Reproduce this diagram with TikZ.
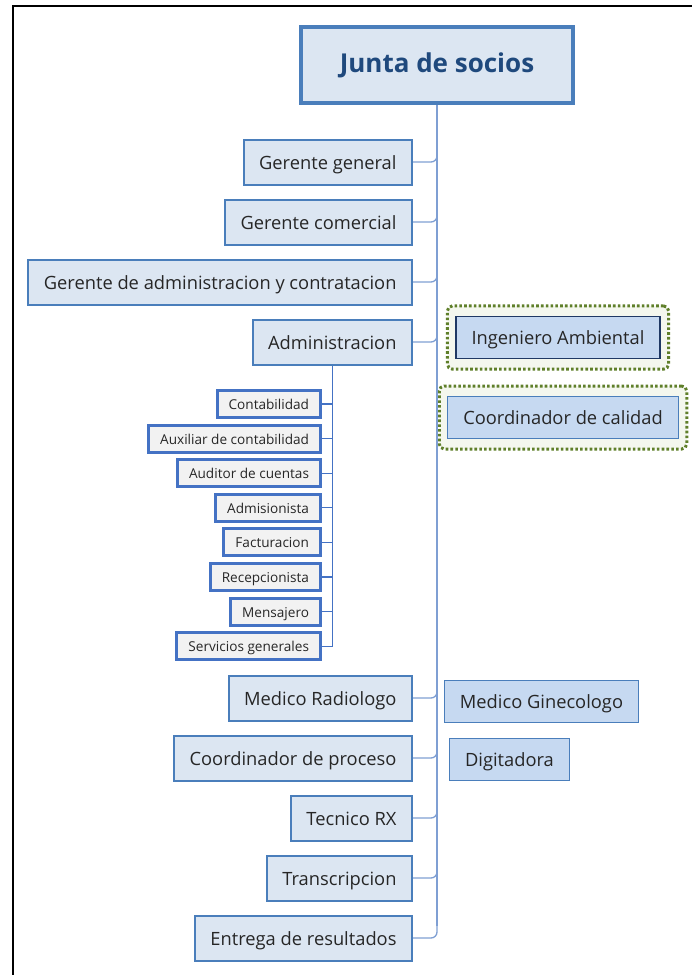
\documentclass[tikz,border=0pt]{standalone}
\usepackage{fontspec}
\setmainfont{Open Sans}
\usetikzlibrary{positioning,fit,backgrounds}

\definecolor{boxfill}{HTML}{DCE6F2}
\definecolor{boxline}{HTML}{4A7EBB}
\definecolor{trunkline}{HTML}{7F9FD3}
\definecolor{subline}{HTML}{4472C4}
\definecolor{subfill}{HTML}{F2F2F2}
\definecolor{sidefill}{HTML}{C6D9F1}
\definecolor{navy}{HTML}{1F497D}
\definecolor{darknavy}{HTML}{1F3864}
\definecolor{olive}{HTML}{5F7F2A}
\definecolor{olivefill}{HTML}{F4F7EE}
\definecolor{ink}{HTML}{262626}

\tikzset{
  head/.style={draw=boxline, line width=3.5pt, fill=boxfill, text=navy,
    font=\fontsize{26}{30}\selectfont\bfseries, minimum width=272pt, minimum height=76pt},
  post/.style={draw=boxline, line width=2pt, fill=boxfill, text=ink,
    font=\fontsize{18.3}{22}\selectfont, text height=16pt, text depth=2pt,
    minimum height=45pt, inner xsep=15.5pt, anchor=east},
  subpost/.style={draw=subline, line width=3pt, fill=subfill, text=ink,
    font=\fontsize{13.6}{16}\selectfont, text height=12.5pt, text depth=1.5pt,
    minimum height=27pt, inner xsep=11.5pt, anchor=east},
  side/.style={draw=boxline, line width=1pt, fill=sidefill, text=ink,
    font=\fontsize{18.3}{22}\selectfont, text height=15pt, text depth=2pt,
    minimum height=42pt, inner xsep=15.5pt},
  halo/.style={draw=olive, line width=3pt, dash pattern=on 2.6pt off 2.2pt,
    fill=olivefill, rounded corners=5pt, inner xsep=8pt, inner ysep=10pt},
  trunk/.style={draw=trunkline, line width=1.3pt},
  branch/.style={trunk, rounded corners=6pt},
  twig/.style={draw=subline, line width=1.2pt},
}

\begin{document}
\begin{tikzpicture}[x=1pt,y=-1pt]
\useasboundingbox (0,0) rectangle (692,975);
% frame
\draw[line width=2.5pt] (13,975) -- (13,6) -- (692,6);

\node[head] (junta) at (437,65) {Junta de socios};

% left column
\node[post] (gg) at (413,162) {Gerente general};
\node[post, below=13pt of gg.south east, anchor=north east] (gc) {Gerente comercial};
\node[post, below=13pt of gc.south east, anchor=north east] (gac) {Gerente de administracion y contratacion};
\node[post, below=13pt of gac.south east, anchor=north east] (adm) {Administracion};
\node[post] (mr) at (413,698) {Medico Radiologo};
\node[post, below=13pt of mr.south east, anchor=north east] (cp) {Coordinador de proceso};
\node[post, below=13pt of cp.south east, anchor=north east] (trx) {Tecnico RX};
\node[post, below=13pt of trx.south east, anchor=north east] (tr) {Transcripcion};
\node[post, below=13pt of tr.south east, anchor=north east] (ent) {Entrega de resultados};

% under Administracion
\node[subpost] (cont) at (322,404) {Contabilidad};
\node[subpost, below=4.6pt of cont.south east, anchor=north east] (aux) {Auxiliar de contabilidad};
\node[subpost, below=4.6pt of aux.south east, anchor=north east] (aud) {Auditor de cuentas};
\node[subpost, below=4.6pt of aud.south east, anchor=north east] (adms) {Admisionista};
\node[subpost, below=4.6pt of adms.south east, anchor=north east] (fac) {Facturacion};
\node[subpost, below=4.6pt of fac.south east, anchor=north east] (rec) {Recepcionista};
\node[subpost, below=4.6pt of rec.south east, anchor=north east] (men) {Mensajero};
\node[subpost, below=4.6pt of men.south east, anchor=north east] (sg) {Servicios generales};

% right side
\node[side, draw=darknavy, line width=1.3pt] (ia) at (558,337.5) {Ingeniero Ambiental};
\node[side] (cc) at (563,417.5) {Coordinador de calidad};
\node[side] (mg) at (541.5,701.5) {Medico Ginecologo};
\node[side] (dig) at (509.5,759.5) {Digitadora};
\begin{scope}[on background layer]
\node[halo, fit=(ia)] (iahalo) {};
\node[halo, fit=(cc)] (cchalo) {};
\end{scope}

% connectors
\draw[trunk] (junta.south) -- ([yshift=12pt]ent.east -| junta.south);
\draw[branch] (gg.east) -| ([yshift=12pt]gg.east -| junta.south);
\draw[branch] (gc.east) -| ([yshift=12pt]gc.east -| junta.south);
\draw[branch] (gac.east) -| ([yshift=12pt]gac.east -| junta.south);
\draw[branch] (adm.east) -| ([yshift=12pt]adm.east -| junta.south);
\draw[branch] (mr.east) -| ([yshift=12pt]mr.east -| junta.south);
\draw[branch] (cp.east) -| ([yshift=12pt]cp.east -| junta.south);
\draw[branch] (trx.east) -| ([yshift=12pt]trx.east -| junta.south);
\draw[branch] (tr.east) -| ([yshift=12pt]tr.east -| junta.south);
\draw[branch] (ent.east) -| ([yshift=12pt]ent.east -| junta.south);

\draw[twig] (adm.south) -- (sg.east -| adm.south) -- (sg.east);
\draw[twig] (cont.east) -- (cont.east -| adm.south);
\draw[twig] (aux.east) -- (aux.east -| adm.south);
\draw[twig] (aud.east) -- (aud.east -| adm.south);
\draw[twig] (adms.east) -- (adms.east -| adm.south);
\draw[twig] (fac.east) -- (fac.east -| adm.south);
\draw[twig] (rec.east) -- (rec.east -| adm.south);
\draw[twig] (men.east) -- (men.east -| adm.south);
\end{tikzpicture}
\end{document}
